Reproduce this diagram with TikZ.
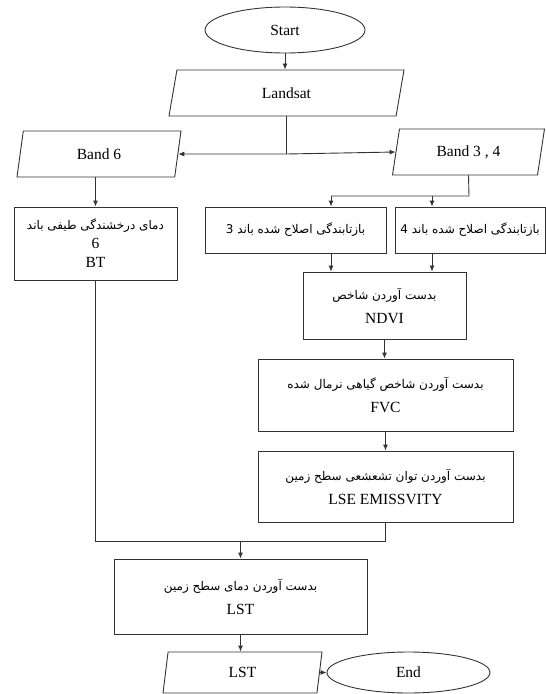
\documentclass[tikz,border=0pt]{standalone}
\usepackage{fontspec}
\setmainfont{Liberation Serif}
\newfontfamily\fa[Script=Arabic]{DejaVu Sans}
\TeXXeTstate=1
\usetikzlibrary{shapes.geometric,arrows.meta}
\newcommand\fatext[1]{{\fa\fontsize{12}{24}\selectfont\beginR #1\endR}}
\tikzset{
  base/.style={draw=black!80, line width=0.9pt, align=center, inner sep=0pt,
    font=\fontsize{15.5}{24}\selectfont},
  term/.style={base, ellipse},
  io/.style={base, trapezium, trapezium stretches body},
  proc/.style={base, rectangle},
  ln/.style={draw=black!80, line width=0.9pt},
  arr/.style={ln, -{Latex[length=6pt,width=5pt]}},
}
\begin{document}
\begin{tikzpicture}[x=1pt,y=-1pt]
\useasboundingbox (0,0) rectangle (546,694);
% nodes
\node[term, minimum width=160pt, minimum height=46pt] (start) at (285,30) {Start};
\node[io, trapezium left angle=54, trapezium right angle=126,
      minimum width=235pt, minimum height=46pt] (landsat) at (286.5,93) {Landsat};
\node[io, trapezium left angle=60, trapezium right angle=120,
      minimum width=164pt, minimum height=46pt] (band6) at (99,154) {Band 6};
\node[io, trapezium left angle=62, trapezium right angle=118,
      minimum width=152pt, minimum height=46pt] (band34) at (468.5,152) {Band 3 , 4};
\node[proc, minimum width=163pt, minimum height=73pt,
      font=\fontsize{15.5}{19}\selectfont] (bt) at (95.5,243.5)
      {{\fa\fontsize{12}{19}\selectfont\beginR دمای درخشندگی طیفی باند\endR}\\6\\BT};
\node[proc, minimum width=181pt, minimum height=46pt] (r3) at (295.5,230)
      {\fatext{بازتابندگی اصلاح شده باند 3}};
\node[proc, minimum width=150pt, minimum height=46pt] (r4) at (470,230)
      {\fatext{بازتابندگی اصلاح شده باند 4}};
\node[proc, minimum width=163pt, minimum height=67pt] (ndvi) at (384.5,305.5)
      {\fatext{بدست آوردن شاخص}\\NDVI};
\node[proc, minimum width=255pt, minimum height=72pt] (fvc) at (385.5,395)
      {\fatext{بدست آوردن شاخص گیاهی نرمال شده}\\FVC};
\node[proc, minimum width=255pt, minimum height=71pt] (lse) at (385.5,486.5)
      {\fatext{بدست آوردن توان تشعشعی سطح زمین}\\LSE EMISSVITY};
\node[proc, minimum width=253pt, minimum height=75pt] (lst) at (240.5,596.5)
      {\fatext{بدست آوردن دمای سطح زمین}\\LST};
\node[io, trapezium left angle=64, trapezium right angle=116,
      minimum width=159pt, minimum height=41pt] (lstout) at (242.5,672.5) {LST};
\node[term, minimum width=163pt, minimum height=41pt] (end) at (408.5,672.5) {End};
% junction points
\coordinate (j1) at (286.5,154);
\coordinate (j2) at (469,196);
\coordinate (j3) at (331,196);
\coordinate (j4) at (432,196);
\coordinate (j5) at (240.5,541);
% connectors
\draw[arr] (start) -- (start |- landsat.north);
\draw[ln] (landsat.center |- landsat.south) -- (j1);
\draw[arr] (j1) -- (band6.east);
\draw[arr] (j1) -- (band34.west);
\draw[arr] (bt.north |- band6.south) -- (bt.north);
\draw[ln] (band34.center |- band34.south) -- (j2) -- (j3);
\draw[arr] (j3) -- (j3 |- r3.north);
\draw[arr] (j4) -- (j4 |- r4.north);
\draw[arr] (j3 |- r3.south) -- (j3 |- ndvi.north);
\draw[arr] (j4 |- r4.south) -- (j4 |- ndvi.north);
\draw[arr] (ndvi.south) -- (ndvi.south |- fvc.north);
\draw[arr] (fvc.south) -- (fvc.south |- lse.north);
\draw[ln] (bt.south) -- (bt.south |- j5) -- (lse.south |- j5) -- (lse.south);
\draw[arr] (j5) -- (lst.north);
\draw[arr] (lst.south) -- (lst.south |- lstout.north);
\draw[arr] (lstout.east) -- (end.west);
\end{tikzpicture}
\end{document}
